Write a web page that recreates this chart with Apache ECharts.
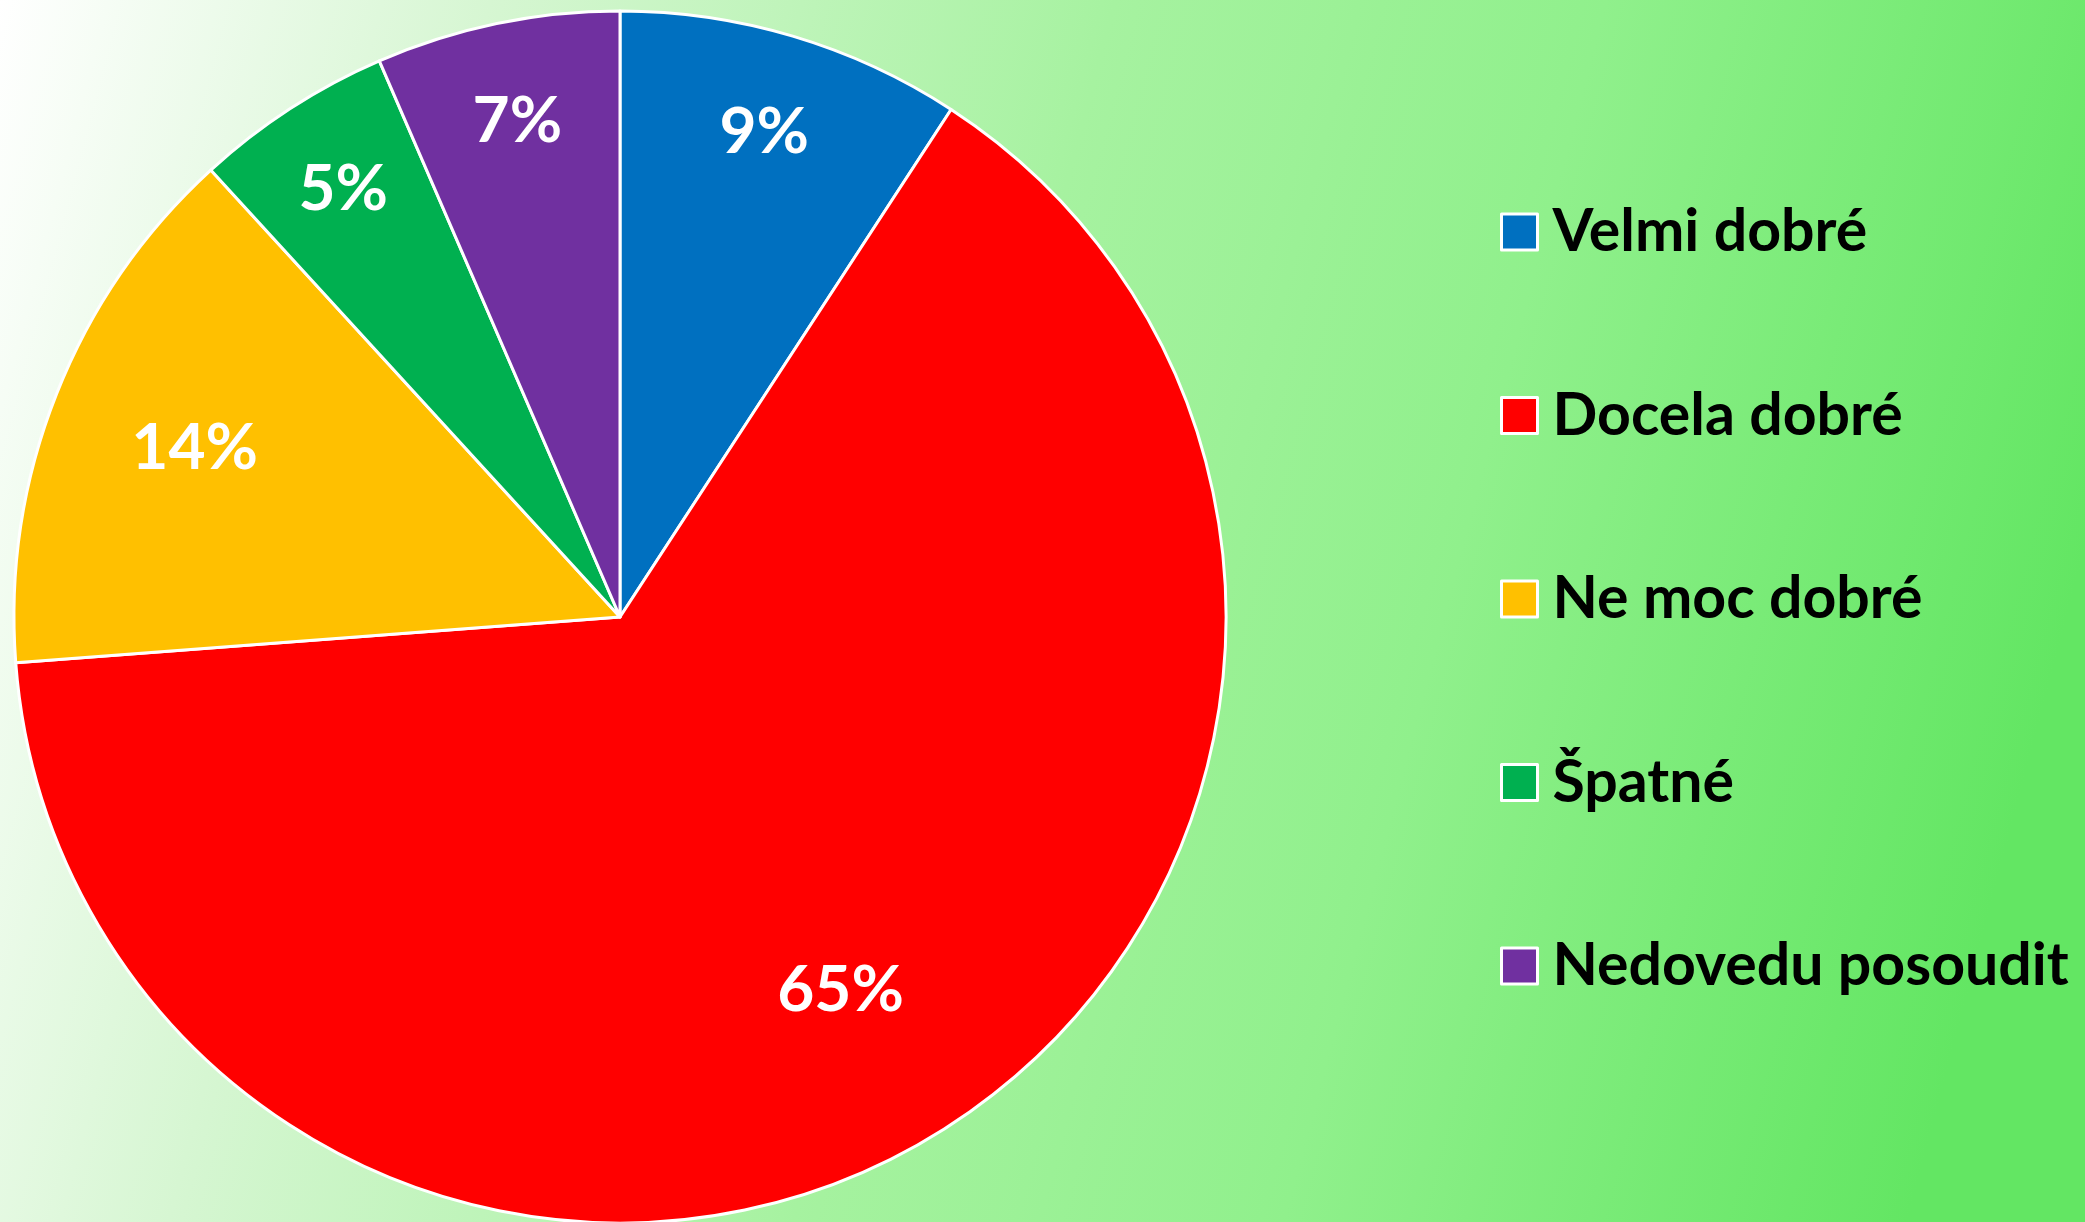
<!DOCTYPE html>
<html>
<head>
<meta charset="utf-8">
<script src="https://cdn.jsdelivr.net/npm/echarts@6/dist/echarts.min.js"></script>
<style>
html,body{margin:0;padding:0;}
#chart{width:2085px;height:1222px;}
</style>
</head>
<body>
<div id="chart"></div>
<script>
const categories = ['Velmi dobré', 'Docela dobré', 'Ne moc dobré', 'Špatné', 'Nedovedu posoudit'];
const values = [9.2, 64.6, 14.4, 5.3, 6.5];
const labels = ['9%', '65%', '14%', '5%', '7%'];
const colors = ['#0070C0', '#FF0000', '#FFC000', '#00B050', '#7030A0'];
// relative radial position of each data label (style)
const labelRadiusFrac = [0.83, 0.71, 0.75, 0.835, 0.83];

const R = 606;
const center = [620, 617];
const font = 'Lato, "Open Sans", sans-serif';

const chart = echarts.init(document.getElementById('chart'));

const series = [{
  type: 'pie',
  center: center,
  radius: [0, R],
  startAngle: 90,
  clockwise: true,
  silent: true,
  animation: false,
  itemStyle: { borderColor: '#ffffff', borderWidth: 3 },
  label: { show: false },
  labelLine: { show: false },
  data: categories.map((c, i) => ({ name: c, value: values[i], itemStyle: { color: colors[i] } }))
}];

categories.forEach((c, k) => {
  const f = labelRadiusFrac[k];
  series.push({
    type: 'pie',
    center: center,
    radius: [(2 * f - 1) * R, R],
    startAngle: 90,
    clockwise: true,
    silent: true,
    animation: false,
    legendHoverLink: false,
    itemStyle: { color: 'rgba(0,0,0,0)', borderWidth: 0 },
    labelLine: { show: false },
    data: categories.map((cc, i) => ({
      name: cc + ' ',
      value: values[i],
      label: {
        show: i === k,
        position: 'inside',
        formatter: labels[i],
        color: '#ffffff',
        fontFamily: font,
        fontWeight: 'bold',
        fontSize: 64
      }
    }))
  });
});

chart.setOption({
  backgroundColor: {
    type: 'linear', x: 0, y: 0, x2: 1, y2: 0.45,
    colorStops: [
      { offset: 0, color: '#ffffff' },
      { offset: 0.22, color: '#d6f6d2' },
      { offset: 0.5, color: '#a6f2a0' },
      { offset: 0.72, color: '#90f08c' },
      { offset: 1, color: '#63e663' }
    ]
  },
  legend: {
    orient: 'vertical',
    left: 1500,
    top: 202,
    padding: 0,
    icon: 'rect',
    itemWidth: 36,
    itemHeight: 36,
    itemGap: 123.5,
    selectedMode: false,
    data: categories.map((c, i) => ({ name: c, itemStyle: { color: colors[i], borderColor: '#ffffff', borderWidth: 3 } })),
    textStyle: {
      color: '#000000',
      fontFamily: font,
      fontWeight: 'bold',
      fontSize: 59,
      lineHeight: 60,
      padding: [0, 0, 0, 10]
    }
  },
  series: series
});
</script>
</body>
</html>
